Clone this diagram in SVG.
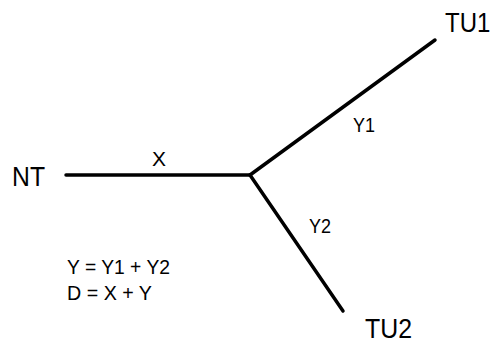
<svg xmlns="http://www.w3.org/2000/svg" width="494" height="344" viewBox="0 0 494 344">
<style>
.lbl{font-family:"Liberation Sans",Arial,sans-serif;fill:#000;}
.big{font-size:28px;}
.sm{font-size:20px;}
.edge{stroke:#000;stroke-width:3.5;fill:none;stroke-linecap:round;}
</style>
<rect width="494" height="344" fill="#fff"/>
<g id="connectors">
<line class="edge" x1="66" y1="175" x2="250" y2="175"/>
<line class="edge" x1="250" y1="175" x2="435" y2="40"/>
<line class="edge" x1="250" y1="175" x2="343" y2="311"/>
<text class="lbl sm" x="152" y="166" textLength="14" lengthAdjust="spacingAndGlyphs">X</text>
<text class="lbl sm" x="353" y="132" textLength="22" lengthAdjust="spacingAndGlyphs">Y1</text>
<text class="lbl sm" x="309" y="233" textLength="22" lengthAdjust="spacingAndGlyphs">Y2</text>
</g>
<g id="NT"><text class="lbl big" x="12" y="186" textLength="33" lengthAdjust="spacingAndGlyphs">NT</text></g>
<g id="TU1"><text class="lbl" font-size="24" transform="translate(445,32) scale(1,1.18)" x="0" y="0">TU1</text></g>
<g id="TU2"><text class="lbl big" x="365" y="338" textLength="47" lengthAdjust="spacingAndGlyphs">TU2</text></g>
<g id="formulas">
<text class="lbl sm" x="67" y="274" textLength="103" lengthAdjust="spacingAndGlyphs">Y = Y1 + Y2</text>
<text class="lbl sm" x="67" y="300" textLength="85" lengthAdjust="spacingAndGlyphs">D = X + Y</text>
</g>
</svg>
